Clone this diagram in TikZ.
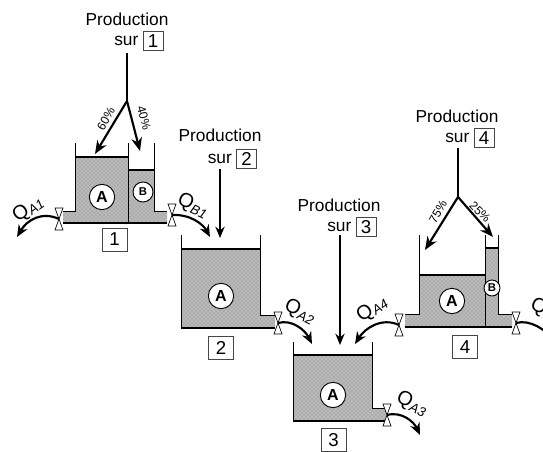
\documentclass[tikz,border=0pt]{standalone}
\usepackage{xcolor}
\usepackage{fontspec}
\setmainfont{Liberation Sans}
\usepackage{tikz}
\usetikzlibrary{positioning,arrows.meta,patterns}
\definecolor{liquidgray}{RGB}{186, 186, 186}
\definecolor{boxgray}{RGB}{70, 70, 70}
\newcommand{\qlabel}[1]{Q\raisebox{-2pt}{\fontsize{10}{11}\selectfont\itshape #1}}

\begin{document}
\begin{tikzpicture}[
    x=0.75pt, y=-0.75pt,
    node distance=1pt,
    txt/.style={inner sep=0pt, font=\fontsize{13}{15}\selectfont},
    numbox/.style={
        rectangle, draw=boxgray, line width=0.5pt, fill=white, inner sep=0pt,
        minimum width=15pt, minimum height=14.5pt,
        font=\fontsize{14}{16}\selectfont
    },
    tanknum/.style={numbox, minimum width=19pt, minimum height=17pt},
    tag/.style={
        circle, draw, line width=0.7pt, fill=white, inner sep=0pt,
        minimum size=19pt, font=\fontsize{12}{13}\selectfont\bfseries
    },
    smalltag/.style={tag, minimum size=12pt, font=\fontsize{8.5}{9}\selectfont\bfseries},
    pct/.style={inner sep=0pt, font=\fontsize{9}{10}\selectfont},
    qtxt/.style={inner sep=0pt, font=\fontsize{15}{17}\selectfont},
    liquid/.style={fill=liquidgray},
    dots/.style={pattern=crosshatch dots, pattern color=black!50},
    wall/.style={line width=0.7pt},
    level/.style={line width=1.1pt},
    arrow/.style={-{Stealth[length=8.5pt,width=7pt]}, line width=1.2pt},
    bigarrow/.style={-{Stealth[length=10pt,width=8pt]}, line width=1.6pt},
    flow/.style={-{Stealth[length=9pt,width=7.5pt]}, line width=1.6pt}
]
    \useasboundingbox (0,0) rectangle (543,451);
    \clip (0,0) rectangle (543,451);

    % liquid
    \foreach \shape in {
        {(75,157) -- (128,157) -- (128,170) -- (154,170) -- (154,211) -- (167,211) -- (167,223) -- (63,223) -- (63,211) -- (75,211)},
        {(181,249) -- (260,249) -- (260,315) -- (275,315) -- (275,328) -- (181,328)},
        {(293,355) -- (372,355) -- (372,408) -- (387,408) -- (387,421) -- (293,421)},
        {(419,275) -- (485,275) -- (485,248) -- (498,248) -- (498,314) -- (512,314) -- (512,327) -- (405,327) -- (405,314) -- (419,314)}
    } {
        \fill[liquid] \shape -- cycle;
        \fill[dots] \shape -- cycle;
    }

    % tank 1
    \draw[wall] (63,211) -- (75,211) -- (75,143);
    \draw[wall] (128,143) -- (128,223);
    \draw[wall] (154,143) -- (154,211) -- (167,211);
    \draw[level] (75,157) -- (128,157);
    \draw[level] (128,170) -- (154,170);
    \draw[level] (63,223) -- (167,223);
    % tank 2
    \draw[wall] (181,235) -- (181,328);
    \draw[wall] (260,235) -- (260,315) -- (275,315);
    \draw[level] (181,249) -- (260,249);
    \draw[level] (181,328) -- (275,328);
    % tank 3
    \draw[wall] (293,342) -- (293,421);
    \draw[wall] (372,342) -- (372,408) -- (387,408);
    \draw[level] (293,355) -- (372,355);
    \draw[level] (293,421) -- (387,421);
    % tank 4
    \draw[wall] (405,314) -- (419,314) -- (419,235);
    \draw[wall] (485,235) -- (485,327);
    \draw[wall] (498,235) -- (498,314) -- (512,314);
    \draw[level] (419,275) -- (485,275);
    \draw[level] (485,248) -- (498,248);
    \draw[level] (405,327) -- (512,327);

    % valves
    \foreach \name/\px/\py in {va1/59/219, vb1/172/215, va2/278/323, va3/387/415, va4/399/325, vb4/516/323} {
        \coordinate (\name) at (\px,\py);
        \draw[line width=0.5pt, fill=white] (\px,\py) -- (\px-4,\py-11) -- (\px+4,\py-11) -- cycle;
        \draw[line width=0.5pt, fill=white] (\px,\py) -- (\px-4,\py+11) -- (\px+4,\py+11) -- cycle;
    }

    \node[tag] (a1) at (102,197) {A};
    \node[smalltag, minimum size=15pt] (b1) at (143,192) {B};
    \node[tag] (a2) at (221,296) {A};
    \node[tag] (a3) at (333,395) {A};
    \node[tag] (a4) at (452,301) {A};
    \node[smalltag] (b4) at (492,288) {B};

    \node[tanknum] (t1) at (114.5,239.5) {1};
    \node[tanknum] (t2) at (221,348) {2};
    \node[tanknum] (t3) at (333.5,440) {3};
    \node[tanknum] (t4) at (465,347) {4};

    % production labels
    \node[numbox] (n1) at (153,41) {1};
    \node[txt, left=3pt of n1] (s1) {sur};
    \node[txt] (p1) at (127,19) {Production};
    \node[numbox] (n2) at (246.5,158.5) {2};
    \node[txt, left=3pt of n2] (s2) {sur};
    \node[txt] (p2) at (220,135) {Production};
    \node[numbox] (n3) at (366,227) {3};
    \node[txt, left=3pt of n3] (s3) {sur};
    \node[txt] (p3) at (339,205) {Production};
    \node[numbox] (n4) at (484,138) {4};
    \node[txt, left=3pt of n4] (s4) {sur};
    \node[txt] (p4) at (457,116) {Production};

    % production flows
    \coordinate (top1) at (127,53);
    \coordinate (fork1) at (127,101);
    \coordinate (in1a) at (95,154);
    \coordinate (in1b) at (140,151);
    \coordinate (top2) at (220,169);
    \coordinate (in2) at (220,238);
    \coordinate (top3) at (340,235);
    \coordinate (in3) at (340,345);
    \coordinate (top4) at (458,148);
    \coordinate (fork4) at (458,197);
    \coordinate (in4a) at (425,250);
    \coordinate (in4b) at (493,237);

    \draw[line width=1.6pt] (top1) -- (fork1);
    \draw[bigarrow] (fork1) -- (in1a);
    \draw[bigarrow] (fork1) -- (in1b);
    \draw[arrow] (top2) -- (in2);
    \draw[arrow] (top3) -- (in3);
    \draw[line width=1.6pt] (top4) -- (fork4);
    \draw[bigarrow] (fork4) -- (in4a);
    \draw[bigarrow] (fork4) -- (in4b);

    \node[pct, rotate=60] (l60) at (106,119) {60\%};
    \node[pct, rotate=-75] (l40) at (144,118) {40\%};
    \node[pct, rotate=60] (l75) at (438,212) {75\%};
    \node[pct, rotate=-45] (l25) at (480,212) {25\%};

    % outflows
    \coordinate (ea1) at (17,237);
    \coordinate (eb1) at (210,237);
    \coordinate (ea2) at (312,344);
    \coordinate (ea3) at (420,435);
    \coordinate (ea4) at (355,344);
    \coordinate (eb4) at (556,345);

    \draw[flow] (va1) .. controls (42,211) and (27,220) .. (ea1);
    \draw[flow] (vb1) .. controls (190,214) and (203,224) .. (eb1);
    \draw[flow] (va2) .. controls (292,319) and (305,330) .. (ea2);
    \draw[flow] (va3) .. controls (402,411) and (414,422) .. (ea3);
    \draw[flow] (va4) .. controls (382,317) and (365,328) .. (ea4);
    \draw[flow] (vb4) .. controls (530,319) and (546,330) .. (eb4);

    \node[qtxt, rotate=35] (qa1) at (28,209) {\qlabel{A1}};
    \node[qtxt, rotate=-25] (qb1) at (193,206) {\qlabel{B1}};
    \node[qtxt, rotate=-25] (qa2) at (300,312) {\qlabel{A2}};
    \node[qtxt, rotate=-25] (qa3) at (412,404) {\qlabel{A3}};
    \node[qtxt, rotate=35] (qa4) at (372,309) {\qlabel{A4}};
    \node[qtxt, rotate=-25] (qb4) at (546,311) {\qlabel{B4}};
\end{tikzpicture}
\end{document}
